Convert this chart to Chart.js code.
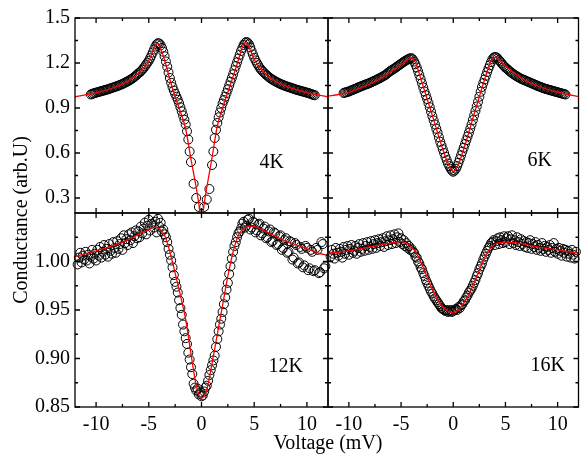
<!DOCTYPE html>
<html>
<head>
<meta charset="utf-8">
<title>Conductance spectra</title>
<script src="https://cdn.jsdelivr.net/npm/chart.js@4.4.0/dist/chart.umd.min.js"></script>
<style>
  html, body { margin: 0; padding: 0; background: #fff; }
  #wrap { position: relative; width: 584px; height: 457px; }
  #wrap canvas { position: absolute; left: 0; top: 0; }
</style>
</head>
<body>
<div id="wrap">
  <canvas id="p4" width="584" height="457"></canvas>
  <canvas id="p6" width="584" height="457"></canvas>
  <canvas id="p12" width="584" height="457"></canvas>
  <canvas id="p16" width="584" height="457"></canvas>
</div>
<script>
// ---- data (voltage in mV, conductance in arb. units) ----
const xMajor = [-10, -5, 0, 5, 10];
const xMinor = [-7.5, -2.5, 2.5, 7.5];
const yTopMajor = [0.3, 0.6, 0.9, 1.2, 1.5];
const yTopMinor = [0.45, 0.75, 1.05, 1.35];
const yBotMajor = [0.85, 0.90, 0.95, 1.00];
const yBotMinor = [0.875, 0.925, 0.975, 1.025];

// bias points of the 4K / 6K sweeps
const vA = [
  -10.5,-10.375,-10.25,-10.125,
  -10,-9.875,-9.75,-9.625,-9.5,-9.375,-9.25,-9.125,
  -9,-8.875,-8.75,-8.625,-8.5,-8.375,-8.25,-8.125,
  -8,-7.875,-7.75,-7.625,-7.5,-7.375,-7.25,-7.125,
  -7,-6.875,-6.75,-6.625,-6.5,-6.375,-6.25,-6.125,
  -6,-5.875,-5.75,-5.625,-5.5,-5.375,-5.25,-5.125,
  -5,-4.875,-4.75,-4.625,-4.5,-4.375,-4.25,-4.125,
  -4,-3.875,-3.75,-3.625,-3.5,-3.375,-3.25,-3.125,
  -3,-2.875,-2.75,-2.625,-2.5,-2.375,-2.25,-2.125,
  -2,-1.875,-1.75,-1.625,-1.5,-1.375,-1.25,-1.125,
  -1,-0.875,-0.75,-0.625,-0.5,-0.375,-0.25,-0.125,
  0,
  0.125,0.25,0.375,0.5,0.625,0.75,0.875,1,
  1.125,1.25,1.375,1.5,1.625,1.75,1.875,2,
  2.125,2.25,2.375,2.5,2.625,2.75,2.875,3,
  3.125,3.25,3.375,3.5,3.625,3.75,3.875,4,
  4.125,4.25,4.375,4.5,4.625,4.75,4.875,5,
  5.125,5.25,5.375,5.5,5.625,5.75,5.875,6,
  6.125,6.25,6.375,6.5,6.625,6.75,6.875,7,
  7.125,7.25,7.375,7.5,7.625,7.75,7.875,8,
  8.125,8.25,8.375,8.5,8.625,8.75,8.875,9,
  9.125,9.25,9.375,9.5,9.625,9.75,9.875,10,
  10.125,10.25,10.375,10.5,10.625,10.75];

// bias points of the 12K / 16K sweeps
const vB = [
  -11.75,-11.625,-11.5,-11.375,-11.25,-11.125,
  -11,-10.875,-10.75,-10.625,-10.5,-10.375,-10.25,-10.125,
  -10,-9.875,-9.75,-9.625,-9.5,-9.375,-9.25,-9.125,
  -9,-8.875,-8.75,-8.625,-8.5,-8.375,-8.25,-8.125,
  -8,-7.875,-7.75,-7.625,-7.5,-7.375,-7.25,-7.125,
  -7,-6.875,-6.75,-6.625,-6.5,-6.375,-6.25,-6.125,
  -6,-5.875,-5.75,-5.625,-5.5,-5.375,-5.25,-5.125,
  -5,-4.875,-4.75,-4.625,-4.5,-4.375,-4.25,-4.125,
  -4,-3.875,-3.75,-3.625,-3.5,-3.375,-3.25,-3.125,
  -3,-2.875,-2.75,-2.625,-2.5,-2.375,-2.25,-2.125,
  -2,-1.875,-1.75,-1.625,-1.5,-1.375,-1.25,-1.125,
  -1,-0.875,-0.75,-0.625,-0.5,-0.375,-0.25,-0.125,
  0,
  0.125,0.25,0.375,0.5,0.625,0.75,0.875,1,
  1.125,1.25,1.375,1.5,1.625,1.75,1.875,2,
  2.125,2.25,2.375,2.5,2.625,2.75,2.875,3,
  3.125,3.25,3.375,3.5,3.625,3.75,3.875,4,
  4.125,4.25,4.375,4.5,4.625,4.75,4.875,5,
  5.125,5.25,5.375,5.5,5.625,5.75,5.875,6,
  6.125,6.25,6.375,6.5,6.625,6.75,6.875,7,
  7.125,7.25,7.375,7.5,7.625,7.75,7.875,8,
  8.125,8.25,8.375,8.5,8.625,8.75,8.875,9,
  9.125,9.25,9.375,9.5,9.625,9.75,9.875,10,
  10.125,10.25,10.375,10.5,10.625,10.75,10.875,11,
  11.125,11.25,11.375,11.5,11.625,11.75];

const g4K = [
  0.99,0.994,0.997,1.0,
  1.002,1.005,1.007,1.01,1.012,1.015,1.017,1.02,
  1.022,1.025,1.028,1.031,1.034,1.037,1.04,1.043,
  1.046,1.049,1.053,1.056,1.06,1.064,1.069,1.073,
  1.078,1.083,1.088,1.094,1.10,1.107,1.115,1.122,
  1.13,1.137,1.145,1.155,1.165,1.177,1.19,1.202,
  1.215,1.232,1.25,1.27,1.29,1.31,1.325,1.332,
  1.33,1.318,1.30,1.275,1.245,1.21,1.175,1.137,
  1.10,1.068,1.04,1.016,0.995,0.975,0.955,0.932,
  0.905,0.878,0.85,0.822,0.79,0.745,0.69,0.61,
  0.54,null,0.395,null,0.30,null,0.24,null,
  null,
  null,0.24,null,0.29,null,0.36,null,0.52,
  0.61,0.70,0.755,0.80,0.838,0.87,0.90,0.93,
  0.953,0.975,1.0,1.025,1.05,1.075,1.10,1.125,
  1.152,1.18,1.205,1.23,1.255,1.28,1.30,1.32,
  1.333,1.34,1.336,1.325,1.305,1.28,1.257,1.235,
  1.217,1.20,1.185,1.17,1.158,1.148,1.139,1.13,
  1.122,1.115,1.107,1.10,1.094,1.088,1.083,1.078,
  1.073,1.069,1.064,1.06,1.056,1.053,1.049,1.046,
  1.043,1.04,1.037,1.034,1.031,1.028,1.025,1.022,
  1.02,1.017,1.015,1.012,1.01,1.007,1.005,1.002,
  1.0,0.997,0.994,0.99,0.988,0.985];

const g6K = [
  1.0,1.003,1.005,1.008,
  1.01,1.014,1.018,1.021,1.025,1.028,1.032,1.036,
  1.04,1.043,1.047,1.05,1.054,1.057,1.06,1.063,
  1.067,1.071,1.075,1.079,1.083,1.087,1.092,1.096,
  1.10,1.105,1.11,1.115,1.12,1.127,1.135,1.141,
  1.148,1.153,1.158,1.164,1.17,1.176,1.183,1.189,
  1.195,1.201,1.208,1.213,1.218,1.223,1.228,1.231,
  1.232,1.224,1.21,1.192,1.17,1.146,1.12,1.093,
  1.065,1.037,1.01,0.985,0.96,0.933,0.905,0.875,
  0.845,0.817,0.79,0.762,0.735,0.705,0.675,0.65,
  0.625,0.60,0.575,0.552,0.53,0.512,0.495,0.483,
  0.475,
  0.483,0.495,0.513,0.535,0.56,0.585,0.61,0.635,
  0.66,0.685,0.71,0.735,0.762,0.79,0.82,0.85,
  0.88,0.91,0.942,0.975,1.008,1.04,1.066,1.09,
  1.115,1.14,1.163,1.185,1.206,1.225,1.236,1.24,
  1.238,1.23,1.22,1.21,1.199,1.188,1.179,1.17,
  1.162,1.155,1.147,1.14,1.133,1.127,1.121,1.115,
  1.11,1.105,1.10,1.095,1.091,1.088,1.084,1.08,
  1.076,1.073,1.069,1.065,1.061,1.058,1.054,1.05,
  1.046,1.043,1.04,1.036,1.033,1.03,1.027,1.025,
  1.022,1.02,1.017,1.015,1.012,1.01,1.007,1.005,
  1.002,1.0,0.997,0.995,0.993,0.99];

const g12K = [
  0.997,1.004,1.009,0.999,1.006,1.002,
  1.010,1.001,1.007,0.998,1.005,1.012,1.003,1.008,
  1.001,1.012,1.006,1.015,1.004,1.010,1.017,1.007,
  1.013,1.005,1.018,1.011,1.008,1.020,1.014,1.009,
  1.021,1.013,1.018,1.024,1.012,1.027,1.019,1.023,
  1.017,1.028,1.022,1.030,1.019,1.026,1.032,1.024,
  1.031,1.025,1.036,1.029,1.034,1.040,1.028,1.037,
  1.043,1.032,1.039,1.046,1.035,1.041,1.030,1.044,
  1.036,1.040,1.031,1.033,1.028,1.025,1.020,1.013,
  1.007,1.001,0.994,0.986,0.979,0.974,0.968,0.960,
  0.952,0.945,0.935,0.928,0.921,0.915,0.906,0.899,
  0.891,0.884,0.874,0.870,0.867,0.869,0.863,0.865,
  0.861,
  0.862,0.866,0.870,0.872,0.877,0.883,0.888,0.893,
  0.898,0.903,0.912,0.920,0.928,0.935,0.941,0.948,
  0.956,0.963,0.971,0.978,0.987,0.995,1.003,1.010,
  1.016,1.020,1.025,1.029,1.031,1.034,1.039,1.041,
  1.035,1.037,1.043,1.044,1.033,1.035,1.041,1.040,
  1.030,1.032,1.038,1.039,1.027,1.029,1.034,1.036,
  1.024,1.025,1.031,1.033,1.020,1.021,1.030,1.029,
  1.017,1.018,1.026,1.027,1.012,1.014,1.022,1.024,
  1.009,1.010,1.021,1.020,1.002,1.004,1.019,1.017,
  0.998,0.999,1.015,1.013,0.994,0.996,1.016,1.014,
  0.991,0.993,1.012,1.010,0.990,0.991,1.014,1.012,
  0.988,0.989,1.020,1.018,0.993,0.995];

const g16K = [
  1.005,1.012,1.008,1.003,1.014,1.009,
  1.006,1.013,1.010,1.004,1.015,1.008,1.012,1.016,
  1.007,1.013,1.017,1.009,1.011,1.016,1.008,1.014,
  1.018,1.010,1.013,1.019,1.011,1.016,1.020,1.012,
  1.015,1.021,1.013,1.018,1.022,1.014,1.019,1.023,
  1.016,1.020,1.024,1.015,1.021,1.026,1.017,1.022,
  1.027,1.018,1.023,1.028,1.019,1.025,1.029,1.020,
  1.024,1.018,1.022,1.016,1.019,1.014,1.016,1.012,
  1.013,1.010,1.009,1.005,1.004,1.000,0.998,0.994,
  0.992,0.988,0.985,0.981,0.978,0.975,0.972,0.969,
  0.967,0.964,0.962,0.960,0.958,0.956,0.954,0.952,
  0.951,0.950,0.949,0.950,0.948,0.949,0.950,0.948,
  0.949,
  0.950,0.951,0.950,0.953,0.952,0.955,0.956,0.959,
  0.960,0.963,0.965,0.968,0.970,0.972,0.975,0.978,
  0.981,0.985,0.988,0.992,0.995,0.998,1.002,1.005,
  1.008,1.011,1.014,1.016,1.019,1.020,1.022,1.017,
  1.021,1.024,1.018,1.025,1.022,1.019,1.026,1.020,
  1.024,1.026,1.018,1.023,1.027,1.019,1.022,1.017,
  1.025,1.020,1.016,1.023,1.018,1.021,1.015,1.020,
  1.014,1.019,1.022,1.013,1.018,1.015,1.020,1.012,
  1.017,1.014,1.011,1.019,1.013,1.016,1.010,1.015,
  1.012,1.017,1.009,1.014,1.019,1.010,1.013,1.008,
  1.014,1.011,1.006,1.013,1.009,1.012,1.005,1.011,
  1.008,1.004,1.012,1.007,1.003,1.010];

// fitted curves (red lines)
const fit4V = [-12,-11,-10,-9,-8,-7,-6,-5.5,-5,-4.6,-4.2,-3.9,-3.5,-3,-2.5,-2,-1.5,-1,-0.5,-0.25,0,0.25,0.5,1,1.5,2,2.5,3,3.5,3.9,4.2,4.6,5,5.5,6,7,8,9,10,11,12];
const fit4G = [0.975,0.988,1.0,1.02,1.045,1.078,1.13,1.165,1.215,1.28,1.33,1.30,1.22,1.09,0.975,0.875,0.76,0.56,0.37,0.26,0.12,0.26,0.37,0.57,0.78,0.90,1.005,1.11,1.22,1.31,1.335,1.29,1.225,1.17,1.13,1.078,1.046,1.022,1.002,0.988,0.975];
const fit6V = [-12,-11,-10,-9,-8,-7,-6,-5,-4.4,-4,-3.6,-3,-2.5,-2,-1.5,-1,-0.5,0,0.5,1,1.5,2,2.5,3,3.6,4,4.4,5,6,7,8,9,10,11,12];
const fit6G = [0.978,0.99,1.005,1.03,1.06,1.095,1.14,1.19,1.22,1.235,1.20,1.07,0.96,0.85,0.735,0.625,0.53,0.478,0.525,0.625,0.74,0.86,0.975,1.09,1.21,1.238,1.22,1.18,1.125,1.08,1.05,1.025,1.005,0.99,0.976];
const fit12V = [-12,-11,-10,-9,-8,-7,-6,-5,-4.5,-4,-3.5,-3,-2.5,-2,-1.5,-1,-0.5,0,0.5,1,1.5,2,2.5,3,3.5,4,4.75,5.5,6.25,7,8,9,10,11,12];
const fit12G = [1.005,1.008,1.011,1.014,1.018,1.022,1.028,1.033,1.0355,1.034,1.027,1.01,0.988,0.965,0.94,0.905,0.872,0.859,0.868,0.895,0.925,0.955,0.985,1.01,1.027,1.034,1.0365,1.034,1.030,1.026,1.021,1.017,1.013,1.009,1.006];
const fit16V = [-12,-10,-8,-6,-5,-4.5,-4,-3.5,-3,-2.5,-2,-1.5,-1,-0.5,0,0.5,1,1.5,2,2.5,3,3.5,4,5,6,7,8,9,10,11,12];
const fit16G = [1.0085,1.011,1.015,1.019,1.0205,1.019,1.015,1.008,0.997,0.984,0.971,0.961,0.953,0.949,0.947,0.950,0.957,0.966,0.978,0.991,1.004,1.013,1.018,1.020,1.0195,1.0175,1.015,1.0135,1.012,1.010,1.009];

// ---- layout ----
const W = 584, H = 457, XH = 30;
const FONT = "'Liberation Serif', 'Times New Roman', serif";

const panels = [
  { id: 'p4',  label: '4K',  at: [6.67, 0.533], v: vA, g: g4K,  fv: fit4V,  fg: fit4G,  yMin: 0.2,  yMax: 1.5,  yMajor: yTopMajor, yMinor: yTopMinor, digits: 1, box: [75, 18, 328, 213],  yLabels: true,  xLabels: false },
  { id: 'p6',  label: '6K',  at: [8.29, 0.547], v: vA, g: g6K,  fv: fit6V,  fg: fit6G,  yMin: 0.2,  yMax: 1.5,  yMajor: yTopMajor, yMinor: yTopMinor, digits: 1, box: [328, 18, 580, 213], yLabels: false, xLabels: false },
  { id: 'p12', label: '12K', at: [8.0, 0.892],  v: vB, g: g12K, fv: fit12V, fg: fit12G, yMin: 0.85, yMax: 1.05, yMajor: yBotMajor, yMinor: yBotMinor, digits: 2, box: [75, 213, 328, 407], yLabels: true,  xLabels: true, titles: true },
  { id: 'p16', label: '16K', at: [9.05, 0.893], v: vB, g: g16K, fv: fit16V, fg: fit16G, yMin: 0.85, yMax: 1.05, yMajor: yBotMajor, yMinor: yBotMinor, digits: 2, box: [328, 213, 580, 407], yLabels: false, xLabels: true }
];

// frame with inward ticks on all four sides
const frameTicks = {
  id: 'frameTicks',
  afterDraw(chart, args, o) {
    const { ctx, chartArea: a, scales: { x, y } } = chart;
    ctx.save();
    ctx.strokeStyle = '#000';
    ctx.lineWidth = 1.3;
    ctx.strokeRect(a.left, a.top, a.right - a.left, a.bottom - a.top);
    ctx.beginPath();
    const xt = (vals, len) => vals.forEach(v => {
      const px = x.getPixelForValue(v);
      ctx.moveTo(px, a.top); ctx.lineTo(px, a.top + len);
      ctx.moveTo(px, a.bottom); ctx.lineTo(px, a.bottom - len);
    });
    const yt = (vals, len) => vals.forEach(v => {
      const py = y.getPixelForValue(v);
      ctx.moveTo(a.left, py); ctx.lineTo(a.left + len, py);
      ctx.moveTo(a.right, py); ctx.lineTo(a.right - len, py);
    });
    xt(xMajor, 5); xt(xMinor, 3);
    yt(o.yMajor, 5); yt(o.yMinor, 3);
    ctx.stroke();
    ctx.restore();
  }
};

// temperature tag inside each panel, plus the shared axis titles
const panelText = {
  id: 'panelText',
  afterDraw(chart, args, o) {
    const { ctx, chartArea: a, scales: { x, y } } = chart;
    ctx.save();
    ctx.fillStyle = '#000';
    ctx.font = '20px ' + FONT;
    ctx.textAlign = 'center';
    ctx.textBaseline = 'middle';
    ctx.fillText(o.label, x.getPixelForValue(o.at[0]), y.getPixelForValue(o.at[1]));
    if (o.titles) {
      ctx.fillText('Voltage (mV)', a.right, 444);
      ctx.translate(22, a.top + 7);
      ctx.rotate(-Math.PI / 2);
      ctx.fillText('Conductance (arb.U)', 0, 0);
    }
    ctx.restore();
  }
};

function makePanel(p) {
  const tickFont = { family: FONT, size: 20 };
  return new Chart(document.getElementById(p.id), {
    type: 'scatter',
    data: {
      datasets: [
        {
          data: p.fv.map((v, i) => ({ x: v, y: p.fg[i] })),
          showLine: true, borderColor: '#ff0000', borderWidth: 1.3,
          pointRadius: 0, cubicInterpolationMode: 'monotone', clip: 0, order: 0
        },
        {
          data: p.v.map((v, i) => ({ x: v, y: p.g[i] })),
          showLine: false, pointRadius: 4.5, pointBorderWidth: 1,
          borderColor: '#000', backgroundColor: 'rgba(0,0,0,0)', clip: false, order: 1
        }
      ]
    },
    options: {
      responsive: false,
      animation: false,
      events: [],
      layout: {
        padding: {
          left: p.yLabels ? 0 : p.box[0],
          top: p.box[1],
          right: W - p.box[2],
          bottom: H - p.box[3] - (p.xLabels ? XH : 0)
        }
      },
      plugins: {
        legend: { display: false },
        tooltip: { enabled: false },
        frameTicks: { yMajor: p.yMajor, yMinor: p.yMinor },
        panelText: { label: p.label, at: p.at, titles: !!p.titles }
      },
      scales: {
        x: {
          type: 'linear', min: -12, max: 12,
          grid: { display: false, drawTicks: false },
          border: { display: false },
          afterBuildTicks: s => { s.ticks = xMajor.map(v => ({ value: v })); },
          afterFit: s => { s.height = p.xLabels ? XH : 0; },
          ticks: { display: p.xLabels, autoSkip: false, maxRotation: 0, padding: 6, color: '#000', font: tickFont, callback: v => String(v) }
        },
        y: {
          type: 'linear', min: p.yMin, max: p.yMax,
          grid: { display: false, drawTicks: false },
          border: { display: false },
          afterBuildTicks: s => { s.ticks = p.yMajor.map(v => ({ value: v })); },
          afterFit: s => { s.width = p.yLabels ? p.box[0] : 0; },
          ticks: { display: p.yLabels, autoSkip: false, padding: 5, color: '#000', font: tickFont, callback: v => v.toFixed(p.digits) }
        }
      }
    },
    plugins: [frameTicks, panelText]
  });
}

panels.forEach(makePanel);
</script>
</body>
</html>
